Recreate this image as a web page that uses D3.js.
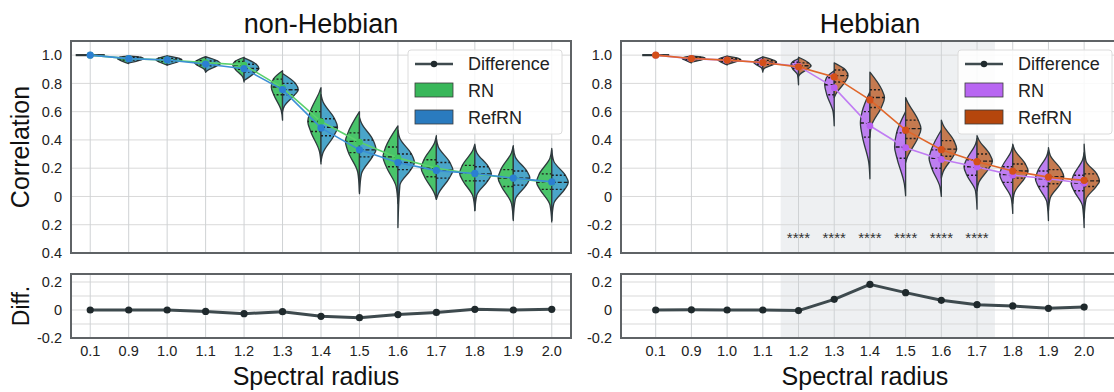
<!DOCTYPE html>
<html>
<head>
<meta charset="utf-8">
<script src="https://cdn.jsdelivr.net/npm/d3@7"></script>
<style>
  body { margin: 0; background: #fff; }
  svg { display: block; font-family: "Liberation Sans", Arial, sans-serif; }
</style>
</head>
<body>
<svg id="fig" width="1114" height="392"></svg>
<script>
// Spectral radius categories
const categories = ["0.1","0.9","1.0","1.1","1.2","1.3","1.4","1.5","1.6","1.7","1.8","1.9","2.0"];

// Per-category violin summaries: [min, q1, median, q3, max]
const nonHebRN = [
  [0.998,0.999,1.0,1.0,1.0],[0.94,0.965,0.975,0.985,0.995],[0.93,0.955,0.967,0.978,0.995],
  [0.88,0.93,0.947,0.96,0.99],[0.81,0.90,0.93,0.955,0.985],[0.54,0.72,0.775,0.83,0.89],
  [0.23,0.46,0.53,0.60,0.77],[0.03,0.31,0.39,0.45,0.60],[-0.05,0.21,0.28,0.35,0.50],
  [-0.02,0.14,0.20,0.26,0.43],[-0.10,0.11,0.165,0.22,0.37],[-0.17,0.07,0.13,0.19,0.36],
  [-0.18,0.05,0.10,0.16,0.34]
];
const nonHebRefRN = [
  [0.998,0.999,1.0,1.0,1.0],[0.945,0.965,0.975,0.985,0.995],[0.93,0.955,0.966,0.977,0.995],
  [0.88,0.925,0.94,0.958,0.99],[0.82,0.88,0.905,0.935,0.98],[0.60,0.72,0.755,0.80,0.87],
  [0.25,0.43,0.49,0.55,0.72],[0.02,0.28,0.33,0.40,0.56],[-0.22,0.19,0.24,0.30,0.47],
  [-0.02,0.13,0.185,0.24,0.41],[-0.10,0.11,0.16,0.21,0.36],[-0.16,0.08,0.13,0.18,0.35],
  [-0.17,0.05,0.10,0.15,0.33]
];
const hebRN = [
  [0.998,0.999,1.0,1.0,1.0],[0.945,0.967,0.976,0.984,0.995],[0.93,0.956,0.966,0.976,0.993],
  [0.88,0.935,0.95,0.962,0.988],[0.79,0.905,0.93,0.95,0.975],[0.50,0.72,0.79,0.84,0.89],
  [0.125,0.42,0.52,0.60,0.74],[0.005,0.27,0.35,0.45,0.60],[0.0,0.20,0.27,0.33,0.47],
  [-0.09,0.15,0.21,0.26,0.41],[-0.12,0.10,0.155,0.21,0.36],[-0.17,0.07,0.125,0.18,0.33],
  [-0.22,0.04,0.095,0.15,0.31]
];
const hebRefRN = [
  [0.998,0.999,1.0,1.0,1.0],[0.95,0.968,0.977,0.985,0.995],[0.935,0.957,0.967,0.977,0.993],
  [0.89,0.935,0.95,0.963,0.988],[0.85,0.905,0.925,0.945,0.985],[0.70,0.81,0.855,0.895,0.945],
  [0.42,0.63,0.70,0.755,0.88],[0.24,0.41,0.48,0.54,0.70],[0.13,0.285,0.335,0.395,0.54],
  [0.04,0.20,0.25,0.30,0.43],[-0.05,0.13,0.18,0.23,0.37],[-0.10,0.09,0.14,0.19,0.345],
  [-0.15,0.07,0.11,0.16,0.37]
];

// Relative peak density of each half violin
const nonHebRNPeak    = [0.88,0.68,0.68,0.68,0.68,0.68,0.8,0.85,0.9,0.92,0.92,0.92,0.92];
const nonHebRefRNPeak = [0.88,0.9,0.9,0.9,0.9,0.95,1,1,1,1,1,1,1];
const hebRNPeak       = [0.88,0.6,0.6,0.6,0.5,0.62,0.62,0.72,0.8,0.85,0.85,0.85,0.85];
const hebRefRNPeak    = [0.88,0.9,0.9,0.9,0.82,0.9,0.95,1,1,1,1,1,1];

// Mean correlation per category
const nonHebRNMean    = [1.0,0.975,0.966,0.947,0.93,0.768,0.53,0.385,0.273,0.2,0.158,0.13,0.098];
const nonHebRefRNMean = [1.0,0.975,0.966,0.937,0.904,0.756,0.485,0.33,0.24,0.183,0.163,0.13,0.103];
const hebRNMean       = [1.0,0.975,0.965,0.948,0.922,0.77,0.50,0.345,0.262,0.208,0.151,0.125,0.093];
const hebRefRNMean    = [1.0,0.976,0.965,0.948,0.917,0.846,0.683,0.469,0.331,0.246,0.18,0.137,0.114];

// Difference of means (RefRN - RN)
const nonHebDiff = [0,0,0,-0.01,-0.026,-0.012,-0.045,-0.055,-0.033,-0.017,0.005,0,0.005];
const hebDiff    = [0,0.001,0,0,-0.004,0.076,0.183,0.124,0.069,0.038,0.029,0.012,0.021];

// Significance marks and highlighted range
const hebSig = ["","","","","****","****","****","****","****","****","","",""];
const hebHighlight = ["1.2","1.7"];

// Tick values and labels
const corrTicks = [1.0,0.8,0.6,0.4,0.2,0,-0.2,-0.4];
const corrLabelsLeft  = ["1.0","0.8","0.6","0.4","0.2","0","0.2","0.4"];
const corrLabelsRight = ["1.0","0.8","0.6","0.4","0.2","0","-0.2","-0.4"];
const diffTicks = [0.2,0,-0.2];
const diffLabels = ["0.2","0","-0.2"];
const diffGrid = [0.2,0.1,0,-0.1,-0.2];

const svg = d3.select("#fig");

const FONT = '"Liberation Sans", Arial, sans-serif';
const GRID = "#d9d9d9";
const FRAME = "#5f6366";
const TICK_FS = 14.5;

const panels = [
  {
    title: "non-Hebbian", frame: [71, 571], band: [71, 571], titleX: 321,
    rn: nonHebRN, ref: nonHebRefRN, rnPeak: nonHebRNPeak, refPeak: nonHebRefRNPeak,
    rnMean: nonHebRNMean, refMean: nonHebRefRNMean, diff: nonHebDiff,
    rnFill: "#49c46a", refFill: "#4aa5c9", rnLegend: "#39b75a", refLegend: "#2a7bbf",
    rnLine: "#5ad06c", refLine: "#3b8fd6", rnDot: "#3fc45f", refDot: "#2b7fd2",
    corrLabels: corrLabelsLeft, legendX: 408, showYLabel: true, sig: null, highlight: null
  },
  {
    title: "Hebbian", frame: [621, 1130], band: [637.85, 1102], titleX: 870,
    rn: hebRN, ref: hebRefRN, rnPeak: hebRNPeak, refPeak: hebRefRNPeak,
    rnMean: hebRNMean, refMean: hebRefRNMean, diff: hebDiff,
    rnFill: "#bd7ff0", refFill: "#c57a50", rnLegend: "#b866f2", refLegend: "#b5460c",
    rnLine: "#c07cf3", refLine: "#e0662a", rnDot: "#b860f2", refDot: "#d4501a",
    corrLabels: corrLabelsRight, legendX: 958, showYLabel: false, sig: hebSig, highlight: hebHighlight
  }
];

const yTop = d3.scaleLinear().domain([-0.4, 1.1]).range([253, 41]);
const yBot = d3.scaleLinear().domain([-0.2, 0.26]).range([338, 273.6]);

panels.forEach(p => {
  const x = d3.scaleBand().domain(categories).range(p.band).padding(0);
  const bw = x.bandwidth();
  const cx = c => x(c) + bw / 2;
  const maxW = 0.43 * bw;
  const [fx0, fx1] = p.frame;

  // ---------- top panel ----------
  const top = svg.append("g");
  const clipId = "clip-" + p.title.replace(/\W/g, "");
  svg.append("clipPath").attr("id", clipId)
    .append("rect").attr("x", fx0).attr("y", 41).attr("width", fx1 - fx0).attr("height", 212);

  if (p.highlight) {
    const x0 = x(p.highlight[0]), x1 = x(p.highlight[1]) + bw;
    top.append("rect").attr("x", x0).attr("y", 41).attr("width", x1 - x0).attr("height", 212)
      .attr("fill", "#eef0f2");
  }

  top.append("g").selectAll("line").data(corrTicks).join("line")
    .attr("x1", fx0).attr("x2", fx1).attr("y1", d => yTop(d)).attr("y2", d => yTop(d))
    .attr("stroke", GRID).attr("stroke-width", 1);
  top.append("g").selectAll("line").data(categories).join("line")
    .attr("x1", d => cx(d)).attr("x2", d => cx(d)).attr("y1", 41).attr("y2", 253)
    .attr("stroke", "#cfd2d4").attr("stroke-width", 1);

  const violins = top.append("g").attr("clip-path", `url(#${clipId})`);

  function halfViolin(c, stats, peak, side, fill) {
    const [mn, q1, md, q3, mx] = stats;
    const w = peak * maxW;
    const c0 = cx(c);
    if (mx - mn < 0.005) {
      violins.append("line").attr("x1", c0).attr("x2", c0 + side * w)
        .attr("y1", yTop(md)).attr("y2", yTop(md))
        .attr("stroke", "#2b3538").attr("stroke-width", 2.2);
      return;
    }
    const iqr = q3 - q1;
    const knots = [{v: mx, w: 0}];
    const hi = q3 + 1.0 * iqr;
    if (hi < mx - 0.01) knots.push({v: hi, w: 0.12 * w});
    knots.push({v: q3, w: 0.82 * w}, {v: md, w: w}, {v: q1, w: 0.78 * w});
    const lo = q1 - 1.0 * iqr;
    if (lo > mn + 0.01) knots.push({v: lo, w: 0.12 * w});
    knots.push({v: mn, w: 0});
    const line = d3.line().x(k => c0 + side * k.w).y(k => yTop(k.v)).curve(d3.curveMonotoneY);
    violins.append("path").attr("d", line(knots) + "Z")
      .attr("fill", fill).attr("stroke", "#2f3a3e").attr("stroke-width", 1.3)
      .attr("stroke-linejoin", "round");
    [[q3, 0.82, "2,2"], [md, 1, "4,2"], [q1, 0.78, "2,2"]].forEach(([v, f, dash]) => {
      violins.append("line").attr("x1", c0).attr("x2", c0 + side * f * w)
        .attr("y1", yTop(v)).attr("y2", yTop(v))
        .attr("stroke", "#1e1e1e").attr("stroke-width", 1.4).attr("stroke-dasharray", dash);
    });
  }

  categories.forEach((c, i) => {
    halfViolin(c, p.rn[i], p.rnPeak[i], -1, p.rnFill);
    halfViolin(c, p.ref[i], p.refPeak[i], 1, p.refFill);
  });

  const meanLine = d3.line().x((d, i) => cx(categories[i])).y(d => yTop(d));
  violins.append("path").attr("d", meanLine(p.rnMean)).attr("fill", "none")
    .attr("stroke", p.rnLine).attr("stroke-width", 1.6);
  violins.append("path").attr("d", meanLine(p.refMean)).attr("fill", "none")
    .attr("stroke", p.refLine).attr("stroke-width", 1.6);
  violins.append("g").selectAll("circle").data(p.rnMean).join("circle")
    .attr("cx", (d, i) => cx(categories[i])).attr("cy", d => yTop(d)).attr("r", 3.4)
    .attr("fill", p.rnDot);
  violins.append("g").selectAll("circle").data(p.refMean).join("circle")
    .attr("cx", (d, i) => cx(categories[i])).attr("cy", d => yTop(d)).attr("r", 3.6)
    .attr("fill", p.refDot);

  if (p.sig) {
    top.append("g").selectAll("text").data(p.sig).join("text")
      .attr("x", (d, i) => cx(categories[i])).attr("y", yTop(-0.29) + 6)
      .attr("text-anchor", "middle").attr("font-size", 15).attr("fill", "#333")
      .attr("font-family", FONT).text(d => d);
  }

  // legend
  const lg = top.append("g").attr("transform", `translate(${p.legendX},50)`);
  lg.append("rect").attr("width", 154).attr("height", 84).attr("rx", 3)
    .attr("fill", "#fff").attr("fill-opacity", 0.85).attr("stroke", "#dcdcdc");
  lg.append("line").attr("x1", 7).attr("x2", 45).attr("y1", 14).attr("y2", 14)
    .attr("stroke", "#3e4a4e").attr("stroke-width", 2.6);
  lg.append("circle").attr("cx", 26).attr("cy", 14).attr("r", 3.2).attr("fill", "#202a2d");
  lg.append("rect").attr("x", 7).attr("y", 33).attr("width", 38).attr("height", 14)
    .attr("fill", p.rnLegend).attr("stroke", "#3a3a3a").attr("stroke-width", 0.8);
  lg.append("rect").attr("x", 7).attr("y", 60).attr("width", 38).attr("height", 14)
    .attr("fill", p.refLegend).attr("stroke", "#3a3a3a").attr("stroke-width", 0.8);
  [["Difference", 20], ["RN", 47], ["RefRN", 74]].forEach(([t, yy]) => {
    lg.append("text").attr("x", 60).attr("y", yy).attr("font-size", 18)
      .attr("font-family", FONT).attr("fill", "#222").text(t);
  });

  top.append("rect").attr("x", fx0).attr("y", 41).attr("width", fx1 - fx0).attr("height", 212)
    .attr("fill", "none").attr("stroke", FRAME).attr("stroke-width", 2);

  const yAxisTop = d3.axisLeft(yTop).tickValues(corrTicks).tickSize(0).tickPadding(9)
    .tickFormat((d, i) => p.corrLabels[i]);
  top.append("g").attr("transform", `translate(${fx0},0)`).call(yAxisTop)
    .call(g => g.select(".domain").remove())
    .call(g => g.selectAll("text").attr("font-size", TICK_FS).attr("fill", "#222").attr("font-family", FONT));

  svg.append("text").attr("x", p.titleX).attr("y", 33).attr("text-anchor", "middle")
    .attr("font-size", 27).attr("font-family", FONT).attr("fill", "#111").text(p.title);

  // ---------- bottom panel ----------
  const bot = svg.append("g");
  if (p.highlight) {
    const x0 = x(p.highlight[0]), x1 = x(p.highlight[1]) + bw;
    bot.append("rect").attr("x", x0).attr("y", 274).attr("width", x1 - x0).attr("height", 64)
      .attr("fill", "#eef0f2");
  }
  bot.append("g").selectAll("line").data(diffGrid).join("line")
    .attr("x1", fx0).attr("x2", fx1).attr("y1", d => yBot(d)).attr("y2", d => yBot(d))
    .attr("stroke", GRID).attr("stroke-width", 1);
  bot.append("g").selectAll("line").data(categories).join("line")
    .attr("x1", d => cx(d)).attr("x2", d => cx(d)).attr("y1", 274).attr("y2", 338)
    .attr("stroke", "#cfd2d4").attr("stroke-width", 1);

  const diffLine = d3.line().x((d, i) => cx(categories[i])).y(d => yBot(d));
  bot.append("path").attr("d", diffLine(p.diff)).attr("fill", "none")
    .attr("stroke", "#3e4a4e").attr("stroke-width", 3).attr("stroke-linejoin", "round");
  bot.append("g").selectAll("circle").data(p.diff).join("circle")
    .attr("cx", (d, i) => cx(categories[i])).attr("cy", d => yBot(d)).attr("r", 3.6)
    .attr("fill", "#1f292c");

  bot.append("rect").attr("x", fx0).attr("y", 274).attr("width", fx1 - fx0).attr("height", 64)
    .attr("fill", "none").attr("stroke", FRAME).attr("stroke-width", 2);

  const yAxisBot = d3.axisLeft(yBot).tickValues(diffTicks).tickSize(0).tickPadding(9)
    .tickFormat((d, i) => diffLabels[i]);
  bot.append("g").attr("transform", `translate(${fx0},0)`).call(yAxisBot)
    .call(g => g.select(".domain").remove())
    .call(g => g.selectAll("text").attr("font-size", TICK_FS).attr("fill", "#222").attr("font-family", FONT));

  const xAxis = d3.axisBottom(x).tickSize(0).tickPadding(8);
  bot.append("g").attr("transform", "translate(0,338)").call(xAxis)
    .call(g => g.select(".domain").remove())
    .call(g => g.selectAll("text").attr("font-size", TICK_FS).attr("fill", "#222").attr("font-family", FONT));

  svg.append("text").attr("x", (p.band[0] + p.band[1]) / 2 - 5).attr("y", 385).attr("text-anchor", "middle")
    .attr("font-size", 25).attr("font-family", FONT).attr("fill", "#111").text("Spectral radius");

  if (p.showYLabel) {
    svg.append("text").attr("transform", "translate(29,147) rotate(-90)").attr("text-anchor", "middle")
      .attr("font-size", 25).attr("font-family", FONT).attr("fill", "#111").text("Correlation");
    svg.append("text").attr("transform", "translate(29,306) rotate(-90)").attr("text-anchor", "middle")
      .attr("font-size", 23).attr("font-family", FONT).attr("fill", "#111").text("Diff.");
  }
});
</script>
</body>
</html>
